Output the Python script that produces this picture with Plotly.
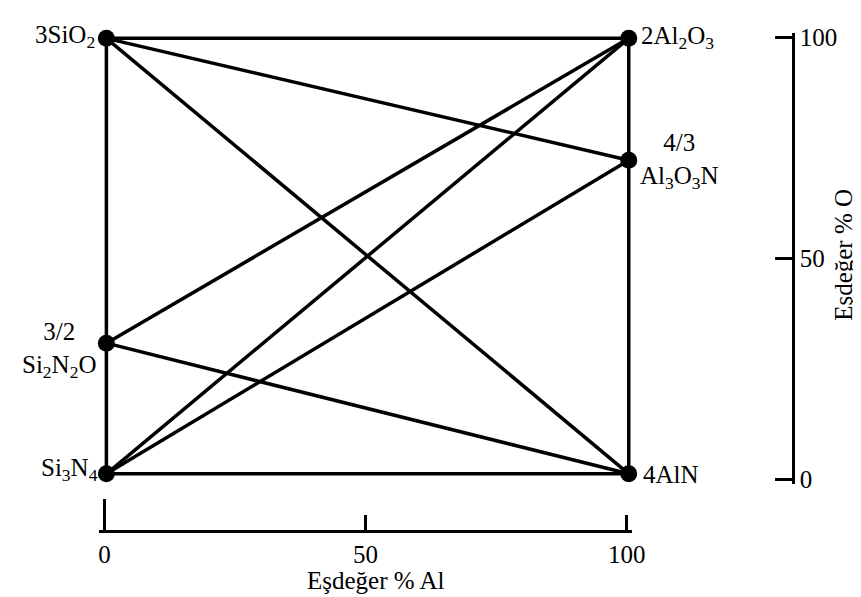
import plotly.graph_objects as go

# Compound positions: (equivalent % Al, equivalent % O)
names = ["3SiO2", "2Al2O3", "Al3O3N", "4AlN", "Si3N4", "Si2N2O"]
al_pct = [0, 100, 100, 100, 0, 0]
o_pct = [100, 100, 72, 0, 0, 30]
labels = ["3SiO<sub>2</sub>", "2Al<sub>2</sub>O<sub>3</sub>",
          "4/3<br>Al<sub>3</sub>O<sub>3</sub>N", "4AlN",
          "Si<sub>3</sub>N<sub>4</sub>", "3/2<br>Si<sub>2</sub>N<sub>2</sub>O"]

# Lines joining compounds (square edges and tie lines)
edges = [("3SiO2", "2Al2O3"), ("2Al2O3", "Al3O3N"), ("Al3O3N", "4AlN"),
         ("4AlN", "Si3N4"), ("Si3N4", "Si2N2O"), ("Si2N2O", "3SiO2"),
         ("3SiO2", "4AlN"), ("3SiO2", "Al3O3N"), ("Si2N2O", "2Al2O3"),
         ("Si3N4", "2Al2O3"), ("Si3N4", "Al3O3N"), ("Si2N2O", "4AlN")]

scale_ticks = [0, 50, 100]
scale_ticktext = ["0", "50", "100"]

W, H = 861, 597
FONT = "Liberation Serif, Times New Roman, serif"
FS = 25


def dom(p0, p100, pad, total, flip=False):
    """domain (paper fraction) for a range [-pad, 100+pad] where value 0 sits at p0 px and 100 at p100 px"""
    per = (p100 - p0) / 100.0
    a = p0 - pad * per
    b = p100 + pad * per
    if flip:
        return [1 - a / total, 1 - b / total]
    return [a / total, b / total]


PAD = 3
xd = dom(99, 630, PAD, W)
yd = dom(471, 22, PAD, H, flip=True)
x2d = dom(97, 628, 1, W)
y2d = dom(477, 21, 1, H, flip=True)

idx = {n: i for i, n in enumerate(names)}
fig = go.Figure()
for a, b in edges:
    fig.add_trace(go.Scatter(
        x=[al_pct[idx[a]], al_pct[idx[b]]], y=[o_pct[idx[a]], o_pct[idx[b]]],
        mode="lines", line=dict(color="black", width=3.5),
        showlegend=False, hoverinfo="skip", cliponaxis=False))
fig.add_trace(go.Scatter(
    x=al_pct, y=o_pct, mode="markers",
    marker=dict(color="black", size=17), showlegend=False,
    cliponaxis=False))

# invisible traces to activate the scale axes
fig.add_trace(go.Scatter(x=[None], y=[None], xaxis="x2", yaxis="y2",
                         showlegend=False, mode="markers"))
fig.add_trace(go.Scatter(x=[None], y=[None], xaxis="x3", yaxis="y2",
                         showlegend=False, mode="markers"))

# label placement
ann_cfg = {
    "3SiO2": dict(xanchor="right", yanchor="middle", xshift=-9, yshift=2, align="right"),
    "2Al2O3": dict(xanchor="left", yanchor="middle", xshift=10, yshift=1, align="left"),
    "Al3O3N": dict(xanchor="left", yanchor="middle", xshift=9, yshift=-1, align="center"),
    "4AlN": dict(xanchor="left", yanchor="middle", xshift=12, yshift=-1, align="left"),
    "Si3N4": dict(xanchor="right", yanchor="middle", xshift=-6, yshift=4, align="right"),
    "Si2N2O": dict(xanchor="right", yanchor="middle", xshift=-8, yshift=-7, align="center"),
}
for n, lab in zip(names, labels):
    fig.add_annotation(x=al_pct[idx[n]], y=o_pct[idx[n]], text=lab, showarrow=False,
                       font=dict(family=FONT, size=FS, color="black"), **ann_cfg[n])

fig.add_annotation(xref="paper", yref="paper", x=373 / W, y=1 - 581 / H,
                   text="Eşdeğer % Al", showarrow=False, xanchor="center", yanchor="middle",
                   font=dict(family=FONT, size=FS, color="black"))
fig.add_annotation(xref="paper", yref="paper", x=848 / W, y=1 - 245 / H,
                   text="Eşdeğer % O", showarrow=False, textangle=-90,
                   xanchor="center", yanchor="middle",
                   font=dict(family=FONT, size=FS, color="black"))

axis_common = dict(showgrid=False, zeroline=False, tickcolor="black", tickwidth=2.5,
                   tickfont=dict(family=FONT, size=FS, color="black"))

fig.update_layout(
    width=W, height=H, margin=dict(l=0, r=0, t=0, b=0),
    paper_bgcolor="white", plot_bgcolor="rgba(0,0,0,0)",
    xaxis=dict(domain=xd, range=[-PAD, 100 + PAD], visible=False, fixedrange=True),
    yaxis=dict(domain=yd, range=[-PAD, 100 + PAD], visible=False, fixedrange=True),
    xaxis2=dict(domain=x2d, range=[-1, 101], anchor="free",
                position=1 - 530 / H, side="bottom", showline=True,
                linecolor="black", linewidth=2.5, ticks="inside", ticklen=15,
                tickvals=scale_ticks, ticktext=scale_ticktext, **axis_common),
    # taller end tick at the left of the Al scale
    xaxis3=dict(domain=x2d, range=[-1, 101], anchor="free", overlaying="x2",
                position=1 - 530 / H, side="bottom", showline=False,
                ticks="inside", ticklen=32, tickvals=[scale_ticks[0]],
                showticklabels=False, **axis_common),
    yaxis2=dict(domain=y2d, range=[-1, 101], anchor="free",
                position=797 / W, side="right", showline=True,
                linecolor="black", linewidth=2.5, ticks="inside", ticklen=17,
                tickvals=scale_ticks, ticktext=scale_ticktext, **axis_common),
)

fig.write_html("out.html")
